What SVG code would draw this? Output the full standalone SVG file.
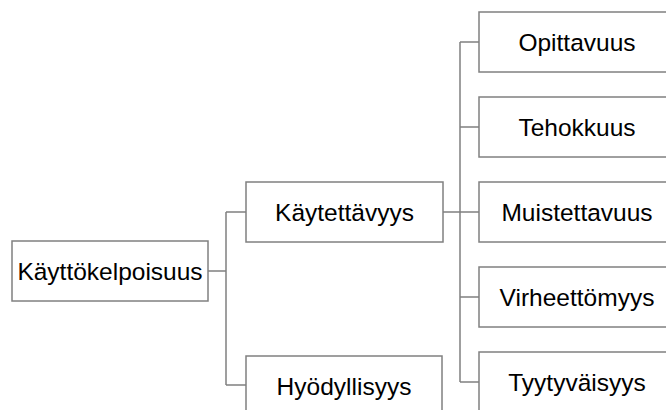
<svg xmlns="http://www.w3.org/2000/svg" width="666" height="410" viewBox="0 0 666 410">
<style>
.box{fill:#ffffff;stroke:#808080;stroke-width:1.5}
.lbl{font-family:"Liberation Sans",Arial,sans-serif;font-size:24.5px;fill:#000000;text-anchor:middle}
.con{fill:none;stroke:#808080;stroke-width:1.5}
</style>
<rect width="666" height="410" fill="#ffffff"/>
<g id="connectors">
<path class="con" d="M208,271 H226 M226,212 V385 M226,212 H246 M226,385 H246"/>
<path class="con" d="M443,212 H460 M460,42 V382 M460,42 H479 M460,127 H479 M460,212 H479 M460,297 H479 M460,382 H479"/>
</g>
<g id="root"><rect class="box" x="12" y="241" width="196" height="60"/><text class="lbl" x="110" y="279.5">Käyttökelpoisuus</text></g>
<g id="kaytettavyys"><rect class="box" x="246" y="182" width="197" height="60"/><text class="lbl" x="344.5" y="220.5">Käytettävyys</text></g>
<g id="hyodyllisyys"><rect class="box" x="246" y="356" width="196" height="60"/><text class="lbl" x="344" y="394.5">Hyödyllisyys</text></g>
<g id="opittavuus"><rect class="box" x="479" y="12" width="196" height="60"/><text class="lbl" x="577" y="50.5">Opittavuus</text></g>
<g id="tehokkuus"><rect class="box" x="479" y="97" width="196" height="60"/><text class="lbl" x="577" y="135.5">Tehokkuus</text></g>
<g id="muistettavuus"><rect class="box" x="479" y="182" width="196" height="60"/><text class="lbl" x="577" y="220.5">Muistettavuus</text></g>
<g id="virheettomyys"><rect class="box" x="479" y="267" width="196" height="60"/><text class="lbl" x="577" y="305.5">Virheettömyys</text></g>
<g id="tyytyvaisyys"><rect class="box" x="479" y="352" width="196" height="60"/><text class="lbl" x="577" y="390.5">Tyytyväisyys</text></g>
</svg>
